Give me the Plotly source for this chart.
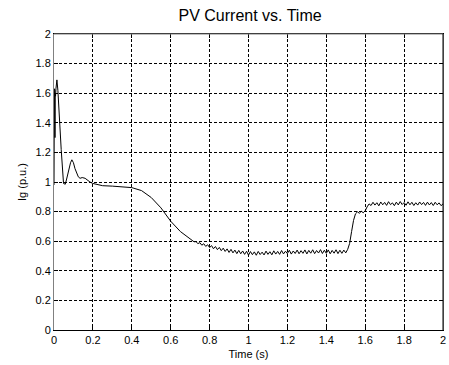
import plotly.graph_objects as go

# ---- data ----
t_start = [0, 0.0005, 0.001, 0.0015, 0.002, 0.0025, 0.003, 0.0035, 0.004, 0.005,
           0.006, 0.007, 0.008, 0.01, 0.012, 0.015, 0.02, 0.027, 0.037, 0.049,
           0.058, 0.065, 0.075, 0.085, 0.092, 0.1, 0.108, 0.117, 0.125, 0.134,
           0.145, 0.16, 0.172, 0.185, 0.2]
ig_start = [0.98, 1.26, 1.62, 1.27, 1.63, 1.26, 1.60, 1.28, 1.62, 1.30,
            1.60, 1.35, 1.58, 1.63, 1.67, 1.69, 1.62, 1.42, 1.22, 0.99,
            0.985, 1.02, 1.08, 1.13, 1.15, 1.13, 1.09, 1.06, 1.035, 1.025,
            1.03, 1.025, 1.01, 1.0, 0.99]

t_decay = [0.25, 0.3, 0.35, 0.4, 0.45, 0.5, 0.55, 0.6, 0.65, 0.7]
ig_decay = [0.975, 0.972, 0.968, 0.962, 0.942, 0.895, 0.825, 0.735, 0.665, 0.612]

t_low = [0.71, 0.72, 0.73, 0.74, 0.75, 0.76, 0.77, 0.78, 0.79, 0.80,
         0.81, 0.82, 0.83, 0.84, 0.85, 0.86, 0.87, 0.88, 0.89, 0.90,
         0.91, 0.92, 0.93, 0.94, 0.95, 0.96, 0.97, 0.98, 0.99, 1.00,
         1.01, 1.02, 1.03, 1.04, 1.05, 1.06, 1.07, 1.08, 1.09, 1.10,
         1.11, 1.12, 1.13, 1.14, 1.15, 1.16, 1.17, 1.18, 1.19, 1.20,
         1.21, 1.22, 1.23, 1.24, 1.25, 1.26, 1.27, 1.28, 1.29, 1.30,
         1.31, 1.32, 1.33, 1.34, 1.35, 1.36, 1.37, 1.38, 1.39, 1.40,
         1.41, 1.42, 1.43, 1.44, 1.45, 1.46, 1.47, 1.48, 1.49, 1.50]
ig_low = [0.606, 0.596, 0.597, 0.584, 0.590, 0.573, 0.583, 0.565, 0.576, 0.557,
          0.570, 0.549, 0.564, 0.543, 0.558, 0.536, 0.553, 0.531, 0.548, 0.524,
          0.545, 0.521, 0.540, 0.516, 0.538, 0.515, 0.534, 0.511, 0.532, 0.506,
          0.530, 0.509, 0.528, 0.505, 0.531, 0.510, 0.526, 0.507, 0.533, 0.511,
          0.529, 0.508, 0.535, 0.513, 0.531, 0.511, 0.537, 0.514, 0.532, 0.516,
          0.539, 0.513, 0.534, 0.517, 0.540, 0.515, 0.536, 0.518, 0.541, 0.514,
          0.538, 0.519, 0.542, 0.516, 0.537, 0.520, 0.543, 0.517, 0.539, 0.518,
          0.541, 0.515, 0.538, 0.519, 0.542, 0.516, 0.539, 0.518, 0.540, 0.521]

t_high = [1.51, 1.52, 1.53, 1.54, 1.55, 1.56, 1.57, 1.58, 1.59, 1.60,
          1.61, 1.62, 1.63, 1.64, 1.65, 1.66, 1.67, 1.68, 1.69, 1.70,
          1.71, 1.72, 1.73, 1.74, 1.75, 1.76, 1.77, 1.78, 1.79, 1.80,
          1.81, 1.82, 1.83, 1.84, 1.85, 1.86, 1.87, 1.88, 1.89, 1.90,
          1.91, 1.92, 1.93, 1.94, 1.95, 1.96, 1.97, 1.98, 1.99, 2.00]
ig_high = [0.545, 0.585, 0.665, 0.740, 0.785, 0.798, 0.789, 0.802, 0.792, 0.806,
           0.832, 0.852, 0.841, 0.863, 0.844, 0.860, 0.839, 0.865, 0.846, 0.862,
           0.842, 0.867, 0.847, 0.859, 0.840, 0.864, 0.845, 0.868, 0.848, 0.861,
           0.843, 0.866, 0.846, 0.863, 0.841, 0.860, 0.844, 0.865, 0.847, 0.862,
           0.842, 0.864, 0.845, 0.861, 0.841, 0.863, 0.846, 0.859, 0.840, 0.852]

x_ticks = [0, 0.2, 0.4, 0.6, 0.8, 1, 1.2, 1.4, 1.6, 1.8, 2]
x_labels = ["0", "0.2", "0.4", "0.6", "0.8", "1", "1.2", "1.4", "1.6", "1.8", "2"]
y_ticks = [0, 0.2, 0.4, 0.6, 0.8, 1, 1.2, 1.4, 1.6, 1.8, 2]
y_labels = ["0", "0.2", "0.4", "0.6", "0.8", "1", "1.2", "1.4", "1.6", "1.8", "2"]

t = t_start + t_decay + t_low + t_high
ig = ig_start + ig_decay + ig_low + ig_high

FONT = "Liberation Sans, Arial, sans-serif"

fig = go.Figure()
fig.add_trace(go.Scatter(x=t, y=ig, mode="lines",
                         line=dict(color="black", width=1),
                         showlegend=False, hoverinfo="skip"))

axis_common = dict(
    showgrid=True, gridcolor="black", griddash="3px,2px", gridwidth=1,
    zeroline=False, showline=True, linewidth=1, mirror="ticks",
    ticks="inside", ticklen=4, tickcolor="black", tickwidth=1,
    tickfont=dict(family=FONT, size=11, color="black"),
    ticklabeloverflow="allow",
)

fig.update_layout(
    width=449, height=365,
    margin=dict(l=54, r=3, t=34, b=35),
    paper_bgcolor="white", plot_bgcolor="white",
    title=dict(text="PV Current vs. Time", x=0.557, xanchor="center",
               y=0.958, yanchor="middle", yref="container",
               font=dict(family=FONT, size=16, color="black")),
    xaxis=dict(range=[0, 2], tickvals=x_ticks, ticktext=x_labels,
               linecolor="black",
               title=dict(text="Time (s)", standoff=5,
                          font=dict(family=FONT, size=11, color="black")),
               **axis_common),
    yaxis=dict(range=[0, 2], tickvals=y_ticks, ticktext=y_labels,
               linecolor="#808080",
               title=dict(text="Ig (p.u.)", standoff=6,
                          font=dict(family=FONT, size=11, color="black")),
               **axis_common),
    shapes=[
        dict(type="line", xref="paper", yref="paper", x0=0, x1=1, y0=1, y1=1,
             line=dict(color="#808080", width=1), layer="above"),
        dict(type="line", xref="paper", yref="paper", x0=1, x1=1, y0=0, y1=1,
             line=dict(color="black", width=1), layer="above"),
    ],
)

fig.write_html("out.html")
